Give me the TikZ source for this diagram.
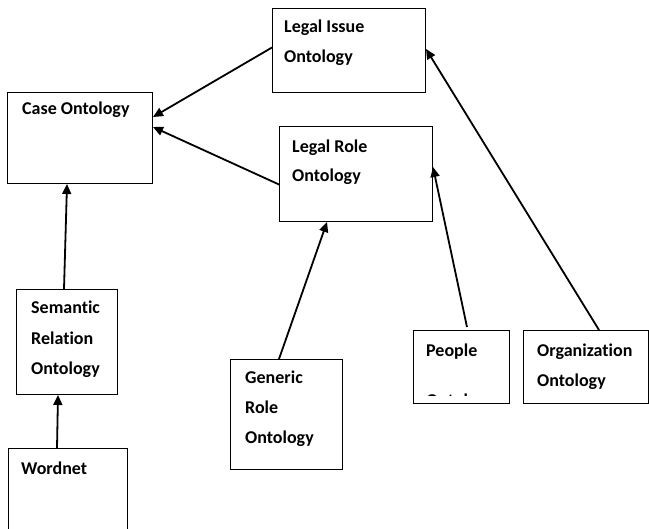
\documentclass[tikz,border=0pt]{standalone}
\usepackage{fontspec}
\setmainfont[Ligatures=CommonOff]{Carlito}
\usetikzlibrary{arrows.meta,calc}
\begin{document}
\begin{tikzpicture}[x=1pt,y=1pt,
 box/.style={draw, line width=1pt, inner sep=0pt, anchor=north west},
 lbl/.style={anchor=base west, inner sep=0pt, font=\fontsize{18}{18}\selectfont\bfseries},
 arr/.style={line width=1.8pt, -{Triangle[length=10pt,width=9pt]}}]
\useasboundingbox (0,0) rectangle (649,-529);
\clip (0,0) rectangle (649,-529);
% boxes
\node[box, minimum width=145pt, minimum height=91pt] (co) at (7,-92) {};
\node[box, minimum width=153pt, minimum height=84pt] (li) at (272,-8) {};
\node[box, minimum width=153pt, minimum height=95pt] (lr) at (279,-126) {};
\node[box, minimum width=101pt, minimum height=105pt] (sr) at (16,-289) {};
\node[box, minimum width=119pt, minimum height=130pt] (wn) at (8,-448) {};
\node[box, minimum width=112pt, minimum height=110pt] (gr) at (230,-359) {};
\node[box, minimum width=96pt, minimum height=73pt] (pe) at (413,-330) {};
\node[box, minimum width=125pt, minimum height=73pt] (og) at (523,-330) {};
% labels
\node[lbl] (co1) at (22,-115) {Case Ontology};
\node[lbl] (li1) at (284,-33) {Legal Issue};
\node[lbl] (li2) at (284,-63) {Ontology};
\node[lbl] (lr1) at (292,-153) {Legal Role};
\node[lbl] (lr2) at (292,-182) {Ontology};
\node[lbl] (sr1) at (31,-314) {Semantic};
\node[lbl] (sr2) at (31,-345) {Relation};
\node[lbl] (sr3) at (31,-375) {Ontology};
\node[lbl] (wn1) at (21,-475) {Wordnet};
\node[lbl] (gr1) at (245,-384) {Generic};
\node[lbl] (gr2) at (245,-414) {Role};
\node[lbl] (gr3) at (245,-444) {Ontology};
\node[lbl] (pe1) at (426,-357) {People};
\node[lbl] (og1) at (537,-357) {Organization};
\node[lbl] (og2) at (537,-387) {Ontology};
\begin{scope}
\clip (414,-331) rectangle (508,-396);
\node[lbl] (pe2) at (426,-407) {Ontology};
\end{scope}
% connectors
\draw[arr] ([yshift=3pt]li.west) -- ([yshift=-25pt]co.north east);
\draw[arr] ([yshift=-10.5pt]lr.west) -- ([yshift=-35pt]co.north east);
\draw[arr] ([xshift=48pt]sr.north west) -- ([xshift=60pt]co.south west);
\draw[arr] ([xshift=49pt]wn.north west) -- ([xshift=42pt]sr.south west);
\draw[arr] ([xshift=49pt]gr.north west) -- ([xshift=48pt]lr.south west);
\draw[arr] ([xshift=54pt,yshift=3pt]pe.north west) -- ([yshift=-41pt]lr.north east);
\draw[arr] ([xshift=76pt]og.north west) -- ([yshift=-41pt]li.north east);
\end{tikzpicture}
\end{document}
